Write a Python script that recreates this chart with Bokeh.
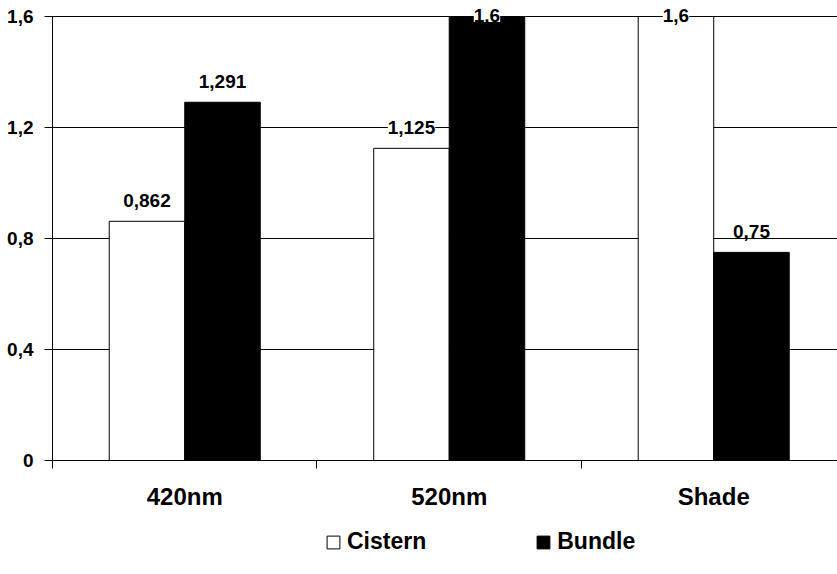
import numpy as np
from bokeh.plotting import figure
from bokeh.layouts import column
from bokeh.core.properties import value
from bokeh.models import ColumnDataSource, Range1d, FixedTicker, LabelSet, Legend, LegendItem
from bokeh.embed import file_html
from bokeh.resources import INLINE

categories = ["420nm", "520nm", "Shade"]
series_names = ["Cistern", "Bundle"]
cistern = [0.862, 1.125, 1.6]
bundle = [1.291, 1.6, 0.75]
cistern_labels = ["0,862", "1,125", "1,6"]
bundle_labels = ["1,291", "1,6", "0,75"]
y_ticks = [0, 0.4, 0.8, 1.2, 1.6]
y_tick_labels = ["0", "0,4", "0,8", "1,2", "1,6"]

FONT = "Liberation Sans"
BAR_W = 0.2855
OFF = BAR_W / 2
Y_MAX = 1.6
LABEL_GAP = 0.075

centers = np.arange(len(categories)) + 0.5

p = figure(width=837, height=520, output_backend="svg", toolbar_location=None,
           x_range=Range1d(0, 2.968), y_range=Range1d(0, 1.6577),
           min_border_left=52, min_border_right=0, min_border_top=0, min_border_bottom=60,
           outline_line_color=None, background_fill_color="white")

src_c = ColumnDataSource(dict(x=centers - OFF, top=cistern, t=cistern_labels,
                              ly=np.minimum(np.array(cistern) + LABEL_GAP, Y_MAX + 0.004)))
src_b = ColumnDataSource(dict(x=centers + OFF, top=bundle, t=bundle_labels,
                              ly=np.minimum(np.array(bundle) + LABEL_GAP, Y_MAX + 0.004)))

p.vbar(x="x", top="top", width=BAR_W, source=src_c, fill_color="white", line_color="black", line_width=1)
p.vbar(x="x", top="top", width=BAR_W, source=src_b, fill_color="black", line_color="black", line_width=1)

for src in (src_c, src_b):
    p.add_layout(LabelSet(x="x", y="ly", text="t", source=src, text_align="center",
                          text_baseline="middle", text_font=value(FONT), text_font_size="19px",
                          text_font_style="bold", text_color="black",
                          background_fill_color="white"))

# grid
p.xgrid.visible = False
p.ygrid.ticker = FixedTicker(ticks=y_ticks)
p.ygrid.grid_line_color = "black"
p.ygrid.grid_line_width = 1

# y axis
p.yaxis.ticker = FixedTicker(ticks=y_ticks)
p.yaxis.bounds = (0, Y_MAX)
p.yaxis.major_label_overrides = {t: l for t, l in zip(y_ticks, y_tick_labels)}
p.yaxis.major_label_text_font = FONT
p.yaxis.major_label_text_font_size = "19px"
p.yaxis.major_label_text_font_style = "bold"
p.yaxis.major_label_text_color = "black"
p.yaxis.major_tick_out = 8
p.yaxis.major_tick_in = 5
p.yaxis.minor_tick_line_color = None
p.yaxis.major_label_standoff = 11
p.yaxis.axis_line_color = "black"
p.yaxis.major_tick_line_color = "black"

# x axis
p.xaxis.ticker = FixedTicker(ticks=list(centers), minor_ticks=list(range(len(categories) + 1)))
p.xaxis.major_label_overrides = {float(c): n for c, n in zip(centers, categories)}
p.xaxis.major_tick_line_color = None
p.xaxis.major_tick_out = 0
p.xaxis.major_tick_in = 0
p.xaxis.minor_tick_out = 8
p.xaxis.minor_tick_in = 0
p.xaxis.minor_tick_line_color = "black"
p.xaxis.axis_line_color = "black"
p.xaxis.major_label_text_font = FONT
p.xaxis.major_label_text_font_size = "24px"
p.xaxis.major_label_text_font_style = "bold"
p.xaxis.major_label_text_color = "black"
p.xaxis.major_label_standoff = 14

# legend strip below the chart (its frame is aligned with the chart's frame)
lg = figure(width=837, height=54, output_backend="svg", toolbar_location=None,
            x_range=Range1d(0, 785), y_range=Range1d(0, 54),
            min_border=0, outline_line_color=None, background_fill_color="white")
lg.axis.visible = False
lg.grid.visible = False
d1 = lg.vbar(x=[-5000], top=[-4999], bottom=[-5000], width=1, fill_color="white", line_color="black")
d2 = lg.vbar(x=[-5000], top=[-4999], bottom=[-5000], width=1, fill_color="black", line_color="black")
legend = Legend(items=[LegendItem(label=series_names[0], renderers=[d1]),
                       LegendItem(label=series_names[1], renderers=[d2])],
                orientation="horizontal", location=(273, 19),
                glyph_width=16, glyph_height=16, label_standoff=6, spacing=109,
                padding=0, margin=0, border_line_color=None, background_fill_alpha=0,
                label_text_font=FONT, label_text_font_size="23px",
                label_text_font_style="bold", label_text_color="black")
lg.add_layout(legend)

open("out.html", "w").write(file_html(column(p, lg, spacing=0), INLINE))
